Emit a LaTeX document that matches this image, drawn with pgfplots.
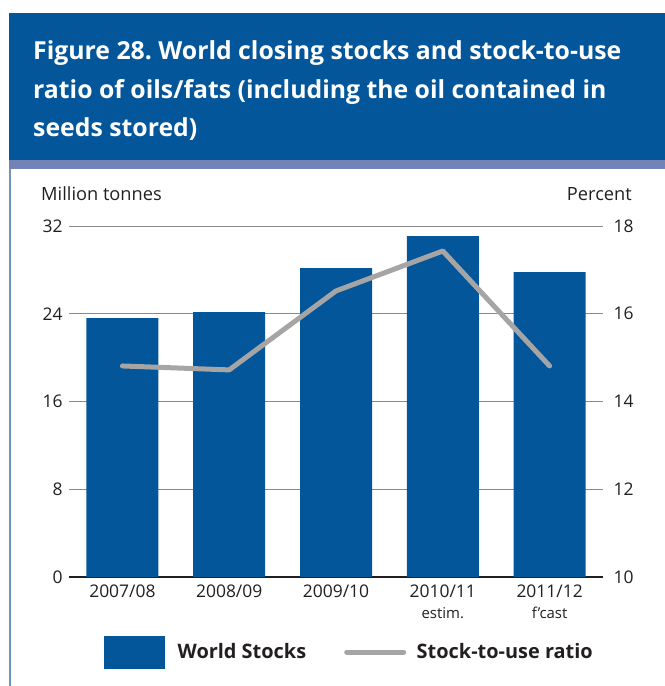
\documentclass[border=0pt]{standalone}
\usepackage{fontspec}
\setmainfont{Open Sans}
\usepackage{pgfplots}
\pgfplotsset{compat=1.18}
\definecolor{hdrblue}{HTML}{03569A}
\definecolor{barblue}{HTML}{03569A}
\definecolor{band}{HTML}{7483B6}
\definecolor{border}{HTML}{6E95BC}
\definecolor{txt}{HTML}{231F20}
\definecolor{linegrey}{HTML}{A5A5A5}
\definecolor{gridgrey}{HTML}{8A8A8A}
\frenchspacing

\pgfplotstableread{
x stocks ratio
0 23.6 14.81
1 24.15 14.72
2 28.17 16.52
3 31.08 17.43
4 27.8 14.81
}\datatable

\begin{document}
\begin{tikzpicture}[x=1bp,y=1bp]
\path[use as bounding box] (0,0) rectangle (665,686);
\fill[hdrblue] (9,673) rectangle (665,526);
\fill[band] (9,526) rectangle (665,517);
\fill[border] (9,517) rectangle (11,0);
\begin{scope}[every node/.style={anchor=base west, text=white, font=\fontsize{24.9}{28}\selectfont\bfseries, inner sep=0}]
\node at (33,626) {Figure 28. World closing stocks and stock-to-use};
\node at (33,587.5) {ratio of oils/fats (including the oil contained in};
\node at (33,549) {seeds stored)};
\end{scope}
\node[anchor=base west, text=txt, font=\fontsize{18.3}{21}\selectfont, inner sep=0] at (41,485.5) {Million tonnes};
\node[anchor=base east, text=txt, font=\fontsize{18.3}{21}\selectfont, inner sep=0] at (632,485.5) {Percent};

\begin{axis}[
  name=left,
  scale only axis, width=534bp, height=351bp,
  at={(69bp,109bp)}, anchor=south west,
  xmin=-0.5, xmax=4.5, ymin=0, ymax=32,
  ytick={8,16,24,32},
  extra y ticks={0},
  extra y tick style={grid style={txt, line width=1.8bp}},
  ymajorgrids, grid style={gridgrey, line width=0.9bp},
  axis line style={draw=none},
  major tick length=0pt,
  xtick=data,
  xticklabels={{2007/08},{2008/09},{2009/10},{2010/11\\[1.5bp]{\fontsize{15}{17}\selectfont estim.}},{2011/12\\[1.5bp]{\fontsize{15}{17}\selectfont f’cast}}},
  xticklabel style={align=center, anchor=north, yshift=-4bp, font=\fontsize{17.5}{20}\selectfont, text=txt},
  yticklabel style={font=\fontsize{17.5}{20}\selectfont, text=txt, xshift=-3bp},
  /pgf/number format/assume math mode=true,
  clip=false,
]
\addplot[ybar, bar width=72bp, fill=barblue, draw=none] table[x=x, y=stocks] {\datatable};
\end{axis}

\begin{axis}[
  scale only axis, width=534bp, height=351bp,
  at={(69bp,109bp)}, anchor=south west,
  xmin=-0.5, xmax=4.5, ymin=10, ymax=18,
  ytick={10,12,14,16,18},
  axis x line=none,
  axis y line*=right,
  axis line style={draw=none},
  major tick length=0pt,
  yticklabel style={font=\fontsize{17.5}{20}\selectfont, text=txt, xshift=7bp},
  /pgf/number format/assume math mode=true,
  legend style={at={(0.066,-0.214)}, anchor=west, draw=none, fill=none,
    legend columns=2, font=\fontsize{20}{23}\selectfont\bfseries, text=txt,
    /tikz/every even column/.append style={column sep=36bp},
    inner sep=0pt},
  legend cell align=left,
]
\addlegendimage{legend image code/.code={\fill[barblue] (0bp,-16bp) rectangle (60bp,16bp); \path[draw=none,fill=none] (0bp,0bp) -- (71bp,0bp);}}
\addlegendentry{World Stocks}
\addplot[linegrey, line width=5bp, line cap=round, line join=round,
  legend image code/.code={\draw[linegrey, line width=5bp, line cap=round] (0bp,0bp) -- (57bp,0bp); \path[draw=none,fill=none] (0bp,0bp) -- (68bp,0bp);}]
  table[x=x, y=ratio] {\datatable};
\addlegendentry{Stock-to-use ratio}
\end{axis}
\end{tikzpicture}
\end{document}
